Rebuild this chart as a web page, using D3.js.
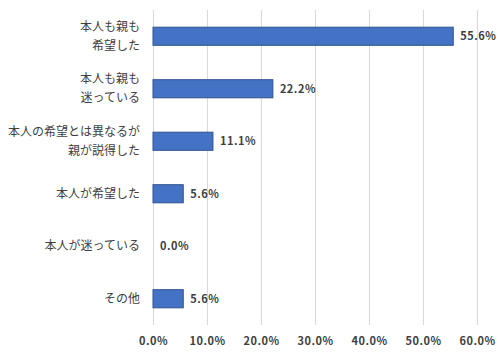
<html lang="ja">
<head>
<meta charset="UTF-8">
<script src="https://d3js.org/d3.v7.min.js"></script>
<style>
  body { margin: 0; background: #fff; }
  text { font-family: "Noto Sans CJK JP", "Noto Sans", sans-serif; fill: #404040; }
</style>
</head>
<body>
<script>
  // categories (line breaks as in the original) and shares in percent
  const categories = [
    "本人も親も\n希望した",
    "本人も親も\n迷っている",
    "本人の希望とは異なるが\n親が説得した",
    "本人が希望した",
    "本人が迷っている",
    "その他"
  ];
  const values = [55.6, 22.2, 11.1, 5.6, 0.0, 5.6];
  const ticks = [0, 10, 20, 30, 40, 50, 60];

  const w = 500, h = 354;
  const plotLeft = 153, plotRight = 477, plotTop = 10, plotBottom = 325;

  const svg = d3.select("body").append("svg")
    .attr("width", w)
    .attr("height", h);

  const xScale = d3.scaleLinear().domain([0, 60]).range([plotLeft, plotRight]);
  const yScale = d3.scaleBand()
    .domain(categories)
    .range([plotTop, plotBottom])
    .paddingInner(0.655)
    .paddingOuter(0.3275);

  // vertical gridlines
  svg.append("g")
    .selectAll("line")
    .data(ticks)
    .enter()
    .append("line")
    .attr("x1", (d) => xScale(d) + 0.5)
    .attr("x2", (d) => xScale(d) + 0.5)
    .attr("y1", plotTop)
    .attr("y2", plotBottom)
    .attr("stroke", "#d9d9d9")
    .attr("stroke-width", 1);

  // x axis tick labels
  const xAxis = d3.axisBottom(xScale)
    .tickValues(ticks)
    .tickFormat((d) => d.toFixed(1) + "%")
    .tickSize(0)
    .tickPadding(0);
  const gx = svg.append("g")
    .attr("transform", "translate(0," + (plotBottom + 12) + ")")
    .call(xAxis);
  gx.select(".domain").remove();
  gx.selectAll("text")
    .attr("font-size", 11)
    .attr("font-weight", "bold")
    .attr("letter-spacing", 0.5)
    .attr("fill", "#404040")
    .style("font-family", '"Noto Sans CJK JP", sans-serif');

  // bars
  svg.selectAll("rect.bar")
    .data(values)
    .enter()
    .append("rect")
    .attr("class", "bar")
    .attr("x", xScale(0))
    .attr("y", (d, i) => yScale(categories[i]))
    .attr("width", (d) => xScale(d) - xScale(0))
    .attr("height", yScale.bandwidth())
    .attr("fill", "#4472c4")
    .attr("stroke", (d) => d > 0 ? "#2f528f" : "none")
    .attr("stroke-width", 1);

  // value labels
  svg.selectAll("text.val")
    .data(values)
    .enter()
    .append("text")
    .attr("class", "val")
    .attr("x", (d) => xScale(d) + 7)
    .attr("y", (d, i) => yScale(categories[i]) + yScale.bandwidth() / 2)
    .attr("dy", "0.35em")
    .attr("font-size", 11)
    .attr("font-weight", "bold")
    .attr("letter-spacing", 0.5)
    .text((d) => d.toFixed(1) + "%");

  // category labels
  const cat = svg.selectAll("text.cat")
    .data(categories)
    .enter()
    .append("text")
    .attr("class", "cat")
    .attr("text-anchor", "end")
    .attr("font-size", 12)
    .attr("x", 140)
    .attr("y", (d) => yScale(d) + yScale.bandwidth() / 2);

  cat.each(function (d) {
    const lines = d.split("\n");
    const t = d3.select(this);
    lines.forEach((line, j) => {
      t.append("tspan")
        .attr("x", 140)
        .attr("y", yScale(d) + yScale.bandwidth() / 2 + (j - (lines.length - 1) / 2) * 19)
        .attr("dy", "0.35em")
        .text(line);
    });
  });
</script>
</body>
</html>
